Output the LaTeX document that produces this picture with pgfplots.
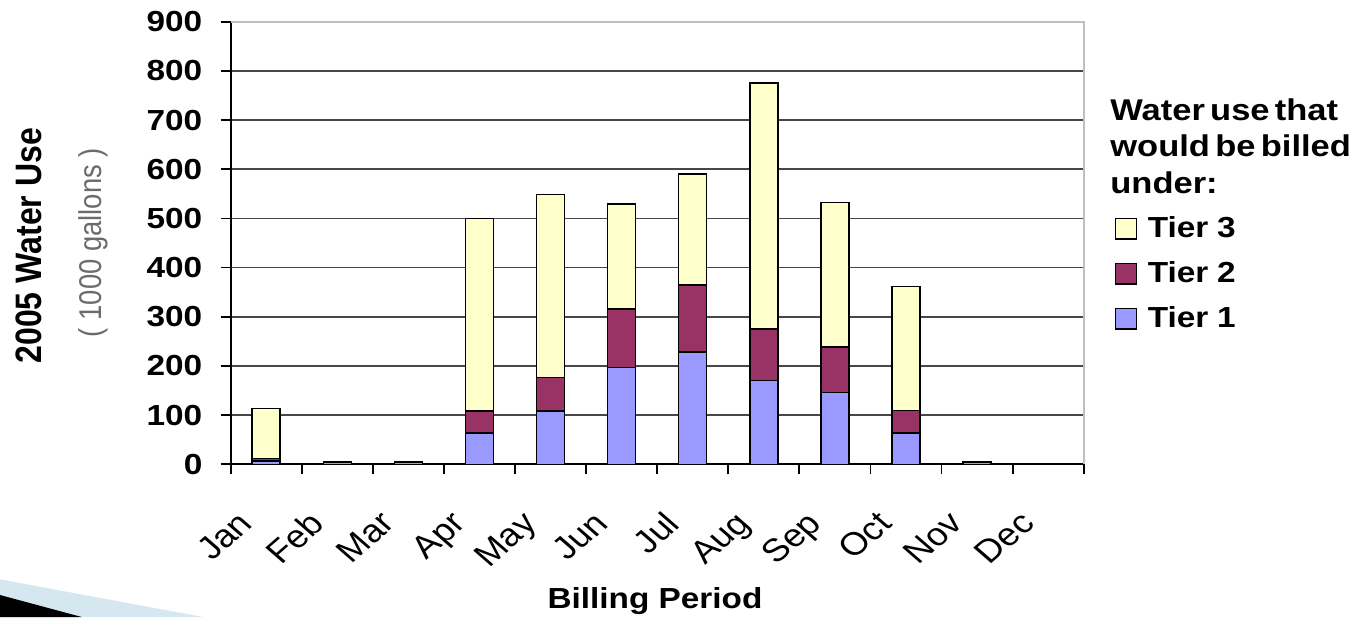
\documentclass[border=0pt]{standalone}
\usepackage{pgfplots}
\pgfplotsset{compat=1.18}
\usepackage{graphicx}
\usepackage{fontspec}
\setmainfont{Liberation Sans}
\newfontfamily\wb[FakeStretch=1.15]{Liberation Sans Bold}
\newfontfamily\wt[FakeStretch=1.15,WordSpace=0.55]{Liberation Sans Bold}
\newfontfamily\sbold{Liberation Sans Bold}
\definecolor{tA}{HTML}{9999FF}
\definecolor{tB}{HTML}{993366}
\definecolor{tC}{HTML}{FFFFCC}
\definecolor{swb}{HTML}{D5E8F0}
\begin{document}
\begin{tikzpicture}
\useasboundingbox (0,0) rectangle (680pt,308.5pt);
\fill[swb] (0,0) -- (0,18.85pt) -- (101.5pt,0) -- cycle;
\fill[black] (0,0) -- (0,11pt) -- (40.85pt,0) -- cycle;
\begin{axis}[
  at={(115.35pt,76.35pt)}, anchor=south west,
  scale only axis, width=426.5pt, height=221.3pt,
  ymin=0, ymax=900, ytick={0,100,...,900},
  xmin=-0.5, xmax=11.5,
  xtick={-0.5,0.5,...,11.5},
  x tick label as interval,
  xticklabels={Jan,Feb,Mar,Apr,May,Jun,Jul,Aug,Sep,Oct,Nov,Dec},
  axis x line*=bottom, axis y line*=left,
  axis line style={black, line width=0.9pt},
  tick align=outside, major tick length=5pt,
  tick style={black, line width=0.9pt},
  ymajorgrids, grid style={black!72, line width=0.9pt},
  /pgf/number format/assume math mode=true,
  y tick label style={font=\wb\fontsize{14.5}{14.5}\selectfont, inner sep=0pt, xshift=-9pt},
  x tick label style={font=\fontsize{16}{16}\selectfont, anchor=north east, inner sep=0pt, xshift=-15pt, yshift=-17.5pt, xscale=1.15, rotate=45},
  ybar stacked, bar width=14pt,
  reverse legend,
  legend cell align=left,
  legend style={at={(1.0367,0.5594)}, anchor=north west, draw=none, fill=none,
    inner sep=0pt, outer sep=0pt, row sep=10.5pt, column sep=5.3pt,
    font=\wb\fontsize{14.5}{14.5}\selectfont, nodes={inner sep=0pt, outer sep=0pt}},
  legend image code/.code={\draw[#1,draw=black,line width=0.6pt] (0pt,-5.1pt) rectangle (10.5pt,5.1pt);},
  clip=false,
]
\addplot[fill=tA, draw=black, line width=0.75pt] coordinates {(0,7) (1,5) (2,5) (3,64) (4,108) (5,197) (6,228) (7,170) (8,146) (9,64) (10,5)};
\addlegendentry{Tier\hspace{4.4pt}1}
\addplot[fill=tB, draw=black, line width=0.75pt] coordinates {(0,5) (1,0) (2,0) (3,44) (4,69) (5,119) (6,137) (7,105) (8,93) (9,45) (10,0)};
\addlegendentry{Tier\hspace{4.4pt}2}
\addplot[fill=tC, draw=black, line width=0.75pt] coordinates {(0,101) (1,0) (2,0) (3,392) (4,372) (5,213) (6,225) (7,500) (8,293) (9,253) (10,0)};
\addlegendentry{Tier\hspace{4.4pt}3}
\draw[black!25, line width=0.9pt] (rel axis cs:0,1) -- (rel axis cs:1,1) -- (rel axis cs:1,0);
\node[font=\wt\fontsize{15}{15}\selectfont, anchor=base west, inner sep=0pt] at (rel axis cs:1.0308,0.7779) {Water use that};
\node[font=\wt\fontsize{15}{15}\selectfont, anchor=base west, inner sep=0pt] at (rel axis cs:1.0308,0.6950) {would be billed};
\node[font=\wt\fontsize{15}{15}\selectfont, anchor=base west, inner sep=0pt] at (rel axis cs:1.0308,0.6123) {under:};
\node[rotate=90, inner sep=0pt] at (rel axis cs:-0.2367,0.4937) {\scalebox{1}[1.15]{\sbold\fontsize{16}{16}\selectfont 2005 Water Use}};
\node[rotate=90, inner sep=0pt, text=black!58] at (rel axis cs:-0.1606,0.501) {\scalebox{1}[1.15]{\fontsize{13.7}{13.7}\selectfont ( 1000 gallons )}};
\node[anchor=base, inner sep=0pt, font=\wb\fontsize{14.5}{14.5}\selectfont] at (rel axis cs:0.4974,-0.3247) {Billing\hspace{4.6pt}Period};
\end{axis}
\end{tikzpicture}
\end{document}
